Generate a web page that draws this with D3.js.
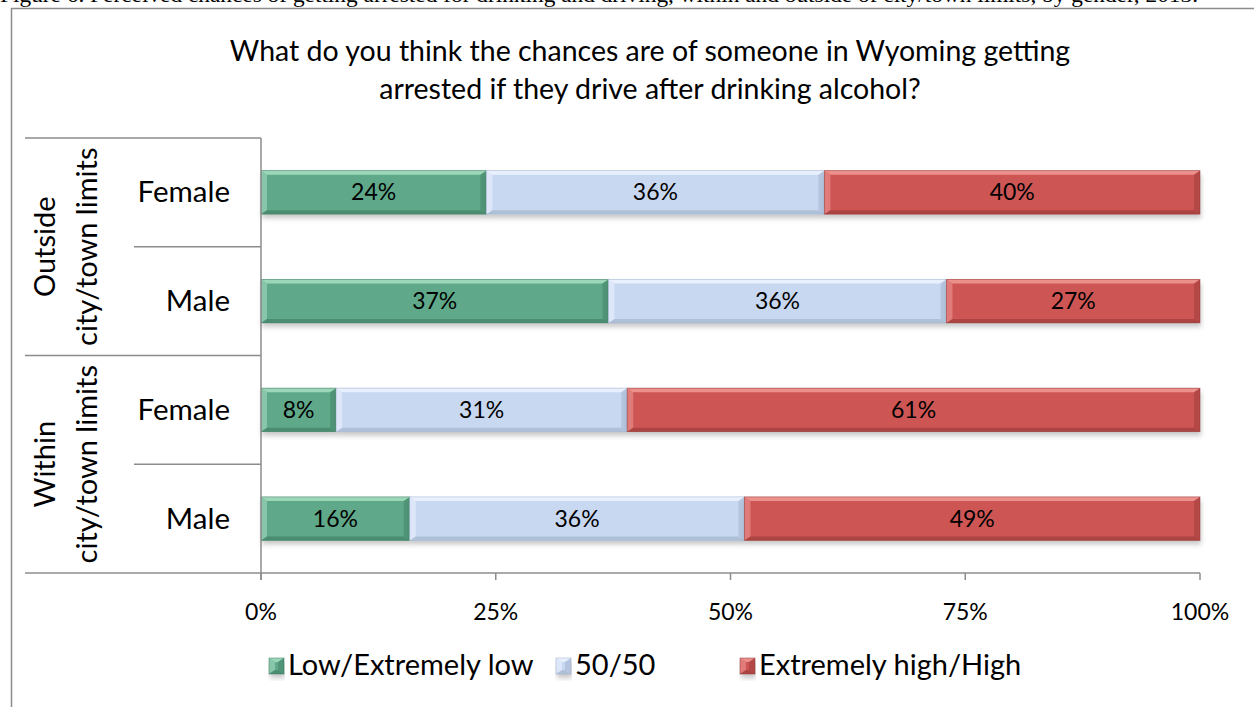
<!DOCTYPE html>
<html lang="en">
<head>
    <meta charset="UTF-8">
    <title>Chances of getting arrested</title>
    <script src="https://cdn.jsdelivr.net/npm/d3@7"></script>
    <style>
        body {
            margin: 0;
            background: #fff;
        }

        svg {
            width: 1254px;
            height: 707px;
            font-family: Lato, "Open Sans", sans-serif;
        }

        .rule {
            stroke: #8c8c8c;
            stroke-width: 1.5px;
        }
    </style>
</head>
<body>
<svg></svg>

<script>

    var rows = ['Outside Female', 'Outside Male', 'Within Female', 'Within Male'];
    var genders = ['Female', 'Male', 'Female', 'Male'];
    var groups = [['Outside', 'city/town limits'], ['Within', 'city/town limits']];
    var series = ['Low/Extremely low', '50/50', 'Extremely high/High'];

    var lowValues = [24, 37, 8, 16];
    var midValues = [36, 36, 31, 36];
    var highValues = [40, 27, 61, 49];

    var ticks = [0, 0.25, 0.5, 0.75, 1];

    var colors = [
        {main: '#5fa98a', light: '#a7dfc2', dark: '#3d7c60'},
        {main: '#c9d8f1', light: '#eef4ff', dark: '#9fb0c9'},
        {main: '#cd5755', light: '#f19a97', dark: '#943836'}
    ];

    var svg = d3.select('svg');

    var plotLeft = 261, plotRight = 1200, plotTop = 138, plotBottom = 573;

    var x = d3.scaleLinear().domain([0, 1]).range([plotLeft, plotRight]);
    var y = d3.scaleBand().domain(rows).range([plotTop, plotBottom]).paddingInner(0.6).paddingOuter(0.3);
    var band = d3.scaleBand().domain(rows).range([plotTop, plotBottom]);

    // drop shadow under the bars
    var defs = svg.append('defs');
    var f = defs.append('filter').attr('id', 'shadow')
        .attr('x', '-5%').attr('y', '-20%').attr('width', '110%').attr('height', '160%');
    f.append('feDropShadow').attr('dx', 1).attr('dy', 4).attr('stdDeviation', 2.5)
        .attr('flood-color', '#000').attr('flood-opacity', 0.22);

    // caption cut off at the top
    svg.append('text')
        .attr('x', 0).attr('y', 2)
        .attr('textLength', 1198)
        .attr('lengthAdjust', 'spacingAndGlyphs')
        .style('font-family', '"Liberation Serif", serif')
        .style('font-size', '22px')
        .text('Figure 6. Perceived chances of getting arrested for drinking and driving, within and outside of city/town limits, by gender, 2013.');

    // chart frame
    svg.append('path')
        .attr('d', 'M11.5,707 L11.5,8.5 L1254,8.5')
        .attr('fill', 'none')
        .attr('stroke', '#8c8c8c')
        .attr('stroke-width', 1.5);

    var title = svg.append('text')
        .attr('text-anchor', 'middle')
        .style('font-size', '28.5px');
    title.append('tspan').attr('x', 650).attr('y', 61)
        .text('What do you think the chances are of someone in Wyoming getting');
    title.append('tspan').attr('x', 650).attr('y', 99)
        .text('arrested if they drive after drinking alcohol?');

    // stacked data
    var data = rows.map(function (r, i) {
        var vals = [lowValues[i], midValues[i], highValues[i]];
        var total = d3.sum(vals);
        var acc = 0;
        return vals.map(function (v, j) {
            var seg = {row: r, s: j, v: v, x0: acc / total, x1: (acc + v) / total};
            acc += v;
            return seg;
        });
    });

    var b = 6;

    function bevel(g, x0, y0, w, h, c) {
        var x1 = x0 + w, y1 = y0 + h;
        var bw = Math.min(b, w / 2);
        var bh = Math.min(4, h / 3);
        g.append('rect').attr('x', x0).attr('y', y0).attr('width', w).attr('height', h)
            .attr('fill', c.main).attr('filter', 'url(#shadow)');
        g.append('polygon')
            .attr('points', [[x0, y0], [x1, y0], [x1 - bw, y0 + bh], [x0 + bw, y0 + bh]].join(' '))
            .attr('fill', c.light).attr('opacity', 0.85);
        g.append('polygon')
            .attr('points', [[x0, y0], [x0 + bw, y0 + bh], [x0 + bw, y1 - bh], [x0, y1]].join(' '))
            .attr('fill', c.light).attr('opacity', 0.55);
        g.append('polygon')
            .attr('points', [[x1, y0], [x1, y1], [x1 - bw, y1 - bh], [x1 - bw, y0 + bh]].join(' '))
            .attr('fill', c.dark).attr('opacity', 0.45);
        g.append('polygon')
            .attr('points', [[x0, y1], [x0 + bw, y1 - bh], [x1 - bw, y1 - bh], [x1, y1]].join(' '))
            .attr('fill', c.dark).attr('opacity', 0.6);
        g.append('rect').attr('x', x0).attr('y', y0).attr('width', w).attr('height', h)
            .attr('fill', 'none').attr('stroke', c.dark).attr('stroke-width', 0.8).attr('stroke-opacity', 0.6);
    }

    var barG = svg.append('g');
    data.forEach(function (segs) {
        segs.forEach(function (d) {
            var g = barG.append('g');
            bevel(g, x(d.x0), y(d.row), x(d.x1) - x(d.x0), y.bandwidth(), colors[d.s]);
        });
    });

    barG.selectAll('text.val')
        .data(d3.merge(data))
        .enter()
        .append('text')
        .attr('class', 'val')
        .attr('x', function (d) { return (x(d.x0) + x(d.x1)) / 2; })
        .attr('y', function (d) { return y(d.row) + y.bandwidth() / 2 + 8; })
        .attr('text-anchor', 'middle')
        .style('font-size', '23px')
        .text(function (d) { return d.v + '%'; });

    // axis lines and category grid
    svg.append('line').attr('class', 'rule')
        .attr('x1', plotLeft).attr('x2', plotLeft).attr('y1', plotTop).attr('y2', plotBottom + 7);
    svg.append('line').attr('class', 'rule')
        .attr('x1', 25).attr('x2', plotRight).attr('y1', plotBottom).attr('y2', plotBottom);

    rows.forEach(function (r, i) {
        svg.append('line').attr('class', 'rule')
            .attr('x1', i % 2 === 0 ? 25 : 134).attr('x2', plotLeft)
            .attr('y1', band(r)).attr('y2', band(r));
    });

    svg.selectAll('line.tick')
        .data(ticks)
        .enter()
        .append('line')
        .attr('class', 'rule tick')
        .attr('x1', function (d) { return x(d); })
        .attr('x2', function (d) { return x(d); })
        .attr('y1', plotBottom).attr('y2', plotBottom + 7);

    svg.selectAll('text.tick')
        .data(ticks)
        .enter()
        .append('text')
        .attr('class', 'tick')
        .attr('x', function (d) { return x(d); })
        .attr('y', 620)
        .attr('text-anchor', 'middle')
        .style('font-size', '23px')
        .text(d3.format('.0%'));

    svg.selectAll('text.gender')
        .data(rows)
        .enter()
        .append('text')
        .attr('class', 'gender')
        .attr('x', 230)
        .attr('y', function (d) { return band(d) + band.bandwidth() / 2 + 10; })
        .attr('text-anchor', 'end')
        .style('font-size', '29.5px')
        .text(function (d, i) { return genders[i]; });

    groups.forEach(function (lines, i) {
        var cy = band(rows[i * 2 + 1]);
        var t = svg.append('text')
            .attr('transform', 'translate(0,' + cy + ') rotate(-90)')
            .attr('text-anchor', 'middle')
            .style('font-size', '29px');
        t.append('tspan').attr('x', 0).attr('y', 55).text(lines[0]);
        t.append('tspan').attr('x', 0).attr('y', 97).text(lines[1]);
    });

    // legend
    var legendX = [269, 556, 740];
    var lg = svg.selectAll('g.legend')
        .data(series)
        .enter()
        .append('g')
        .attr('class', 'legend')
        .attr('transform', function (d, i) { return 'translate(' + legendX[i] + ',658)'; });

    lg.each(function (d, i) {
        bevel(d3.select(this), 0, 0, 15, 16, colors[i]);
    });

    lg.append('text')
        .attr('x', 19)
        .attr('y', 17)
        .style('font-size', '29px')
        .text(function (d) { return d; });

</script>

</body>
</html>
